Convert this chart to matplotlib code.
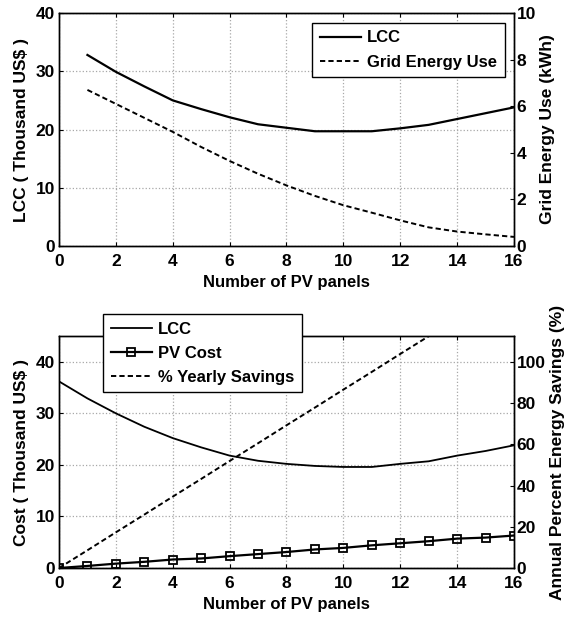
import matplotlib
matplotlib.use('Agg')
import matplotlib.pyplot as plt
import numpy as np

# datos
panels_top = [1, 2, 3, 4, 5, 6, 7, 8, 9, 10, 11, 12, 13, 14, 15, 16]
lcc_top = [32.8, 29.9, 27.4, 25.0, 23.5, 22.1, 20.9, 20.3, 19.7, 19.7, 19.7, 20.2, 20.8, 21.8, 22.8, 23.8]
grid_use = [6.7, 6.1, 5.5, 4.9, 4.25, 3.65, 3.1, 2.6, 2.15, 1.75, 1.43, 1.1, 0.8, 0.62, 0.5, 0.39]

panels_bot = [0, 1, 2, 3, 4, 5, 6, 7, 8, 9, 10, 11, 12, 13, 14, 15, 16]
lcc_bot = [36.2, 32.9, 30.0, 27.4, 25.2, 23.4, 21.8, 20.8, 20.2, 19.8, 19.6, 19.6, 20.2, 20.7, 21.8, 22.7, 23.8]
pv_cost = [0, 0.4, 0.85, 1.2, 1.65, 1.85, 2.3, 2.7, 3.1, 3.6, 3.9, 4.4, 4.8, 5.2, 5.7, 5.9, 6.3]
savings = [0, 8.6, 17.3, 25.9, 34.6, 43.2, 51.9, 60.5, 69.2, 77.8, 86.5, 95.1, 103.8, 112.4, 121.1, 129.7, 138.4]

xticks = [0, 2, 4, 6, 8, 10, 12, 14, 16]

plt.rcParams['font.family'] = ['Liberation Sans', 'DejaVu Sans']
plt.rcParams['font.weight'] = 'bold'
plt.rcParams['font.size'] = 12
plt.rcParams['axes.labelweight'] = 'bold'

fig = plt.figure(figsize=(5.64, 6.17), dpi=100)

DASH = (2.7, 1.6)


def estilo(ax, twin):
    ax.tick_params(axis='x', direction='in', length=3, width=0.8, top=True, labelsize=12.5, pad=6)
    ax.tick_params(axis='y', direction='in', length=3, width=0.8, labelsize=12.5, pad=3)
    twin.tick_params(direction='in', length=3, width=0.8, labelsize=12.5, pad=2)
    for a in (ax, twin):
        for s in a.spines.values():
            s.set_linewidth(1.0)
    ax.grid(True, color='#a8a8a8', linestyle=':', linewidth=0.9)


def leyenda(handles, labels, x, y):
    leg = fig.legend(handles, labels, loc='upper left', bbox_to_anchor=(x / 564, 1 - y / 617),
                     borderaxespad=0, fancybox=False, edgecolor='k', framealpha=1,
                     fontsize=12, handlelength=2.5, borderpad=0.45, labelspacing=0.55,
                     handletextpad=0.35)
    leg.get_frame().set_linewidth(1.0)
    return leg


# --- grafico superior ---
ax1 = fig.add_axes([0.1046, 0.6013, 0.8067, 0.3776])
ax1b = ax1.twinx()
l1, = ax1.plot(panels_top, lcc_top, 'k-', lw=1.6, label='LCC')
l2, = ax1b.plot(panels_top, grid_use, 'k--', lw=1.4, dashes=DASH, label='Grid Energy Use')
ax1.set_xlim(0, 16)
ax1.set_ylim(0, 40)
ax1b.set_ylim(0, 10)
ax1.set_xticks(xticks)
ax1.set_yticks([0, 10, 20, 30, 40])
ax1b.set_yticks([0, 2, 4, 6, 8, 10])
ax1.set_xlabel('Number of PV panels', fontsize=12, labelpad=4)
ax1.set_ylabel('LCC ( Thousand US$ )', fontsize=12.5, labelpad=5)
ax1b.set_ylabel('Grid Energy Use (kWh)', fontsize=12.5, labelpad=3)
estilo(ax1, ax1b)
leyenda([l1, l2], ['LCC', 'Grid Energy Use'], 312, 23)

# --- grafico inferior ---
ax2 = fig.add_axes([0.1046, 0.0794, 0.8067, 0.376])
ax2b = ax2.twinx()
l3, = ax2.plot(panels_bot, lcc_bot, 'k-', lw=1.3, label='LCC')
l4, = ax2.plot(panels_bot, pv_cost, 'k-', lw=1.6, marker='s', ms=6, mfc='none',
               mew=1.3, label='PV Cost')
l5, = ax2b.plot(panels_bot, savings, 'k--', lw=1.4, dashes=DASH, label='% Yearly Savings')
ax2.set_xlim(0, 16)
ax2.set_ylim(0, 45)
ax2b.set_ylim(0, 112.5)
ax2.set_xticks(xticks)
ax2.set_yticks([0, 10, 20, 30, 40])
ax2b.set_yticks([0, 20, 40, 60, 80, 100])
ax2.set_xlabel('Number of PV panels', fontsize=12, labelpad=4)
ax2.set_ylabel('Cost ( Thousand US$ )', fontsize=12.5, labelpad=5)
ax2b.set_ylabel('Annual Percent Energy Savings (%)', fontsize=12.5, labelpad=3)
estilo(ax2, ax2b)
leyenda([l3, l4, l5], ['LCC', 'PV Cost', '% Yearly Savings'], 103, 314)

fig.savefig('out.png', dpi=100)
